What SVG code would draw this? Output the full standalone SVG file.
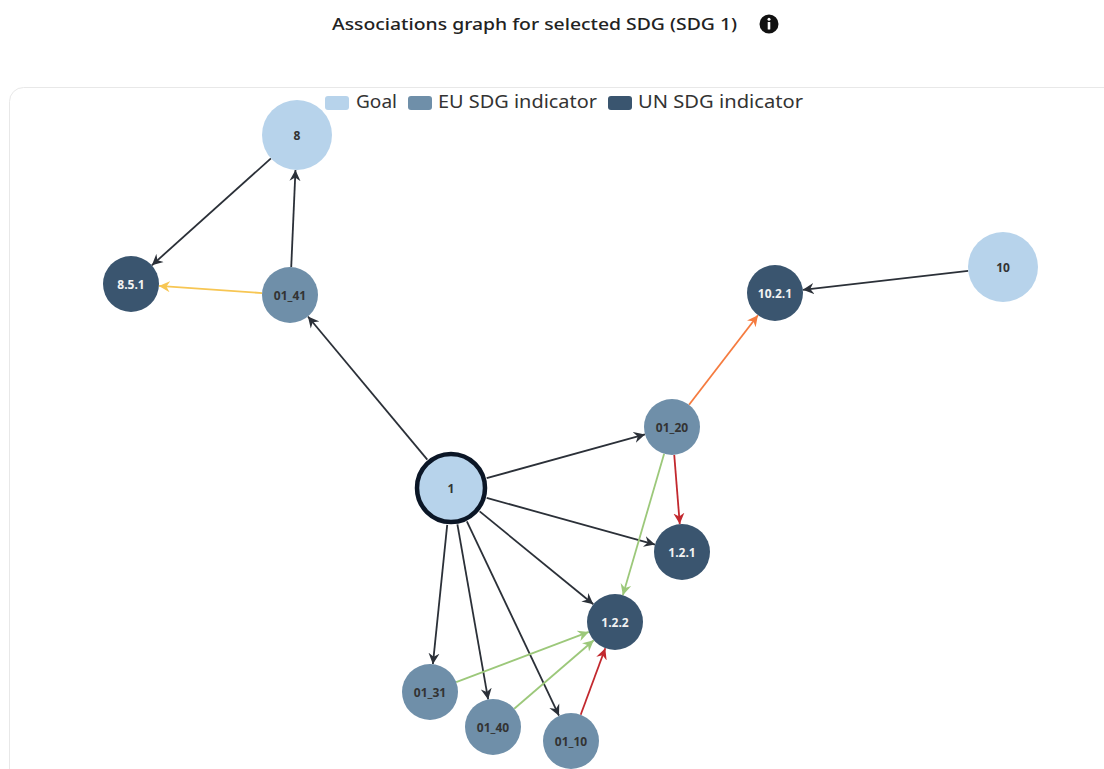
<svg xmlns="http://www.w3.org/2000/svg" width="1104" height="769" viewBox="0 0 1104 769">
  <style>
    .title { font-family: "Noto Sans", "Open Sans", "Liberation Sans", sans-serif; font-size: 17px; font-weight: 500; fill: #222; }
    .legend { font-family: "Noto Sans", "Open Sans", "Liberation Sans", sans-serif; font-size: 18.5px; fill: #333; }
    .edge { fill: none; stroke-width: 1.8; }
    .dark { stroke: #2b3038; }
    .yellow { stroke: #f7c653; }
    .orange { stroke: #f57b3f; }
    .red { stroke: #c2282e; }
    .green { stroke: #9cc87a; }
    .goal { fill: #b7d3eb; }
    .eu { fill: #6f8fa9; }
    .un { fill: #3a556f; }
    .lbl { font-family: "Open Sans", "Liberation Sans", sans-serif; font-size: 12px; font-weight: 700; text-anchor: middle; dominant-baseline: central; fill: #333; }
    .lbl.light { fill: #f2f2f2; }
  </style>
  <defs>
    <marker id="ah-dark" markerUnits="userSpaceOnUse" markerWidth="12" markerHeight="12" viewBox="0 0 12 12" refX="11" refY="6" orient="auto">
      <path d="M0,0.5 L11,6 L0,11.5 L3.5,6 Z" fill="#2b3038"/>
    </marker>
    <marker id="ah-yellow" markerUnits="userSpaceOnUse" markerWidth="12" markerHeight="12" viewBox="0 0 12 12" refX="11" refY="6" orient="auto">
      <path d="M0,0.5 L11,6 L0,11.5 L3.5,6 Z" fill="#f7c653"/>
    </marker>
    <marker id="ah-orange" markerUnits="userSpaceOnUse" markerWidth="12" markerHeight="12" viewBox="0 0 12 12" refX="11" refY="6" orient="auto">
      <path d="M0,0.5 L11,6 L0,11.5 L3.5,6 Z" fill="#f57b3f"/>
    </marker>
    <marker id="ah-red" markerUnits="userSpaceOnUse" markerWidth="12" markerHeight="12" viewBox="0 0 12 12" refX="11" refY="6" orient="auto">
      <path d="M0,0.5 L11,6 L0,11.5 L3.5,6 Z" fill="#c2282e"/>
    </marker>
    <marker id="ah-green" markerUnits="userSpaceOnUse" markerWidth="12" markerHeight="12" viewBox="0 0 12 12" refX="11" refY="6" orient="auto">
      <path d="M0,0.5 L11,6 L0,11.5 L3.5,6 Z" fill="#9cc87a"/>
    </marker>
  </defs>

  <rect width="1104" height="769" fill="#ffffff"/>

  <!-- header -->
  <text class="title" x="332" y="30" textLength="405" lengthAdjust="spacingAndGlyphs">Associations graph for selected SDG (SDG 1)</text>
  <g id="info-icon">
    <circle cx="769" cy="24" r="9.5" fill="#111"/>
    <circle cx="769" cy="19.3" r="1.5" fill="#fff"/>
    <rect x="767.7" y="22" width="2.6" height="7.5" rx="0.6" fill="#fff"/>
  </g>

  <!-- chart panel -->
  <rect x="9.5" y="87.5" width="1120" height="720" rx="14" fill="#fff" stroke="#e8e8e8" stroke-width="1"/>

  <!-- legend -->
  <g id="legend">
    <rect x="325" y="96" width="24" height="14" rx="3" class="goal"/>
    <text class="legend" x="356" y="108" textLength="41" lengthAdjust="spacingAndGlyphs">Goal</text>
    <rect x="408" y="96" width="24" height="14" rx="3" class="eu"/>
    <text class="legend" x="438" y="108" textLength="159" lengthAdjust="spacingAndGlyphs">EU SDG indicator</text>
    <rect x="608" y="96" width="24" height="14" rx="3" class="un"/>
    <text class="legend" x="638" y="108" textLength="165" lengthAdjust="spacingAndGlyphs">UN SDG indicator</text>
  </g>

  <!-- connectors -->
  <g id="edges">
    <line class="edge dark" x1="270.95" y1="158.38" x2="151.84" y2="265.30" marker-end="url(#ah-dark)"/>
    <line class="edge dark" x1="291.22" y1="267.03" x2="295.47" y2="169.97" marker-end="url(#ah-dark)"/>
    <line class="edge yellow" x1="262.07" y1="293.07" x2="158.93" y2="285.93" marker-end="url(#ah-yellow)"/>
    <line class="edge dark" x1="427.30" y1="459.59" x2="307.94" y2="316.50" marker-end="url(#ah-dark)"/>
    <line class="edge dark" x1="486.67" y1="478.15" x2="645.01" y2="434.45" marker-end="url(#ah-dark)"/>
    <line class="edge dark" x1="486.66" y1="497.88" x2="655.02" y2="544.52" marker-end="url(#ah-dark)"/>
    <line class="edge dark" x1="479.65" y1="511.41" x2="593.32" y2="604.28" stroke-width="2.6" marker-end="url(#ah-dark)"/>
    <line class="edge dark" x1="447.21" y1="524.80" x2="432.87" y2="664.15" marker-end="url(#ah-dark)"/>
    <line class="edge dark" x1="457.40" y1="524.44" x2="488.15" y2="699.42" marker-end="url(#ah-dark)"/>
    <line class="edge dark" x1="466.86" y1="521.43" x2="559.00" y2="715.70" marker-end="url(#ah-dark)"/>
    <line class="edge orange" x1="689.06" y1="404.80" x2="757.94" y2="315.20" marker-end="url(#ah-orange)"/>
    <line class="edge dark" x1="968.23" y1="270.97" x2="802.82" y2="289.83" marker-end="url(#ah-dark)"/>
    <line class="edge red" x1="674.23" y1="454.91" x2="679.77" y2="524.09" marker-end="url(#ah-red)"/>
    <line class="edge green" x1="664.14" y1="453.87" x2="622.86" y2="595.13" marker-end="url(#ah-green)"/>
    <line class="edge green" x1="456.19" y1="682.09" x2="588.81" y2="631.91" marker-end="url(#ah-green)"/>
    <line class="edge green" x1="514.22" y1="708.74" x2="593.78" y2="640.27" marker-end="url(#ah-green)"/>
    <line class="edge red" x1="580.71" y1="714.74" x2="605.29" y2="648.26" marker-end="url(#ah-red)"/>
  </g>

  <!-- nodes -->
  <g id="node-8"><circle cx="297" cy="135" r="35" class="goal"/><text class="lbl" x="297" y="135">8</text></g>
  <g id="node-10"><circle cx="1003" cy="267" r="35" class="goal"/><text class="lbl" x="1003" y="267">10</text></g>
  <g id="node-1"><circle cx="451" cy="488" r="34" class="goal" stroke="#0b1626" stroke-width="4.5"/><text class="lbl" x="451" y="488">1</text></g>
  <g id="node-01_41"><circle cx="290" cy="295" r="28" class="eu"/><text class="lbl" x="290" y="295">01_41</text></g>
  <g id="node-01_20"><circle cx="672" cy="427" r="28" class="eu"/><text class="lbl" x="672" y="427">01_20</text></g>
  <g id="node-01_31"><circle cx="430" cy="692" r="28" class="eu"/><text class="lbl" x="430" y="692">01_31</text></g>
  <g id="node-01_40"><circle cx="493" cy="727" r="28" class="eu"/><text class="lbl" x="493" y="727">01_40</text></g>
  <g id="node-01_10"><circle cx="571" cy="741" r="28" class="eu"/><text class="lbl" x="571" y="741">01_10</text></g>
  <g id="node-8.5.1"><circle cx="131" cy="284" r="28" class="un"/><text class="lbl light" x="131" y="284">8.5.1</text></g>
  <g id="node-10.2.1"><circle cx="775" cy="293" r="28" class="un"/><text class="lbl light" x="775" y="293">10.2.1</text></g>
  <g id="node-1.2.1"><circle cx="682" cy="552" r="28" class="un"/><text class="lbl light" x="682" y="552">1.2.1</text></g>
  <g id="node-1.2.2"><circle cx="615" cy="622" r="28" class="un"/><text class="lbl light" x="615" y="622">1.2.2</text></g>
</svg>
